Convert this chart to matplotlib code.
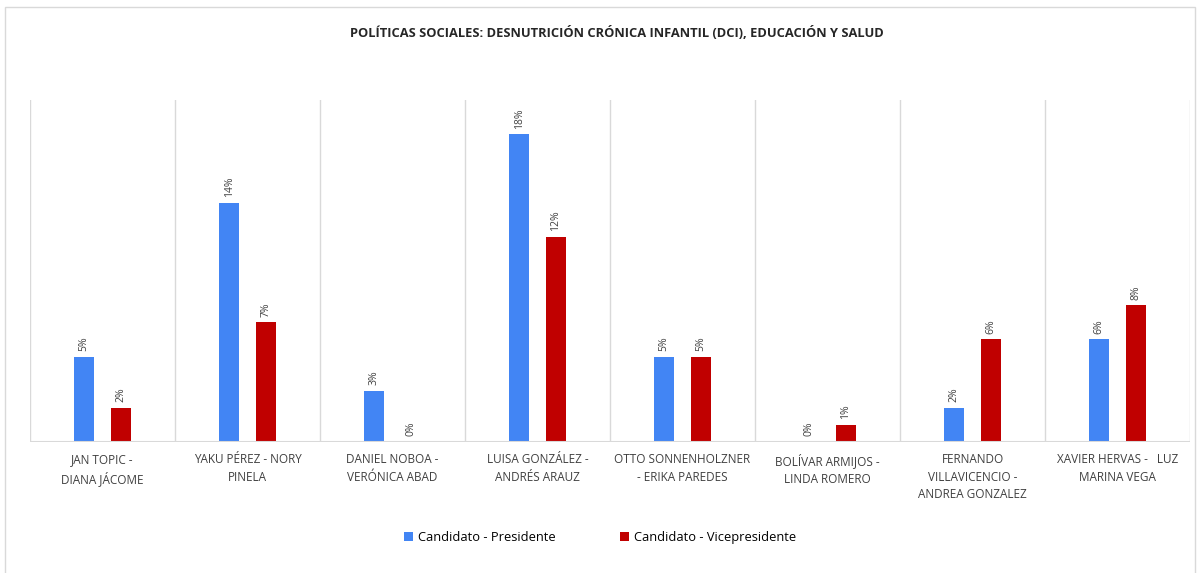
import matplotlib.pyplot as plt
from matplotlib.patches import Rectangle
import numpy as np

# data
categorias = [
    "JAN TOPIC -\nDIANA JÁCOME",
    "YAKU PÉREZ - NORY\nPINELA",
    "DANIEL NOBOA -\nVERÓNICA ABAD",
    "LUISA GONZÁLEZ -\nANDRÉS ARAUZ",
    "OTTO SONNENHOLZNER\n- ERIKA PAREDES",
    "BOLÍVAR ARMIJOS -\nLINDA ROMERO",
    "FERNANDO\nVILLAVICENCIO -\nANDREA GONZALEZ",
    "XAVIER HERVAS -   LUZ\nMARINA VEGA",
]
presidente = [0.05, 0.14, 0.03, 0.18, 0.05, 0.00, 0.02, 0.06]
vicepresidente = [0.02, 0.07, 0.00, 0.12, 0.05, 0.01, 0.06, 0.08]
series_names = ["Candidato - Presidente", "Candidato - Vicepresidente"]

plt.rcParams['font.family'] = ['Open Sans', 'DejaVu Sans']

fig = plt.figure(figsize=(12, 5.73), dpi=100)
ax = fig.add_axes([0.025, 0.2286, 0.9667, 0.5969])

x = np.arange(len(categorias))
w = 0.138
off = 0.127
b1 = ax.bar(x - off, presidente, w, color='#4285f4', label=series_names[0])
b2 = ax.bar(x + off, vicepresidente, w, color='#c00000', label=series_names[1])

for bars in (b1, b2):
    for r in bars:
        h = r.get_height()
        ax.annotate(f"{h*100:.0f}%", (r.get_x() + r.get_width() / 2, h),
                    xytext=(0, 4), textcoords='offset points',
                    rotation=90, ha='center', va='bottom',
                    fontsize=7.5, color='#404040')

ax.set_xlim(-0.5, len(categorias) - 0.5)
ax.set_ylim(0, 0.20)
for b in np.arange(-0.5, len(categorias), 1):
    ax.axvline(b, color='#d9d9d9', lw=1, zorder=0)

for s in ax.spines.values():
    s.set_visible(False)
ax.axhline(0, color='#d9d9d9', lw=1.5, zorder=3)
ax.set_yticks([])
ax.set_xticks(x)
ax.set_xticklabels(categorias, fontsize=8.5, color='#404040', linespacing=1.45)
ax.tick_params(axis='x', length=0, pad=8)

fig.suptitle("POLÍTICAS SOCIALES: DESNUTRICIÓN CRÓNICA INFANTIL (DCI), EDUCACIÓN Y SALUD",
             x=0.514, y=0.955, fontsize=9.3, fontweight='bold', color='#262626')

fig.legend(handles=[b1, b2], labels=series_names, loc='center',
           bbox_to_anchor=(0.5, 0.062), ncol=2, frameon=False,
           fontsize=9.3, handlelength=0.7, handleheight=0.7,
           columnspacing=5.0, handletextpad=0.4)

fig.patches.append(Rectangle((0.004, -0.01), 0.992, 0.998, transform=fig.transFigure,
                             fill=False, edgecolor='#d9d9d9', lw=1))

fig.savefig("out.png", dpi=100)
